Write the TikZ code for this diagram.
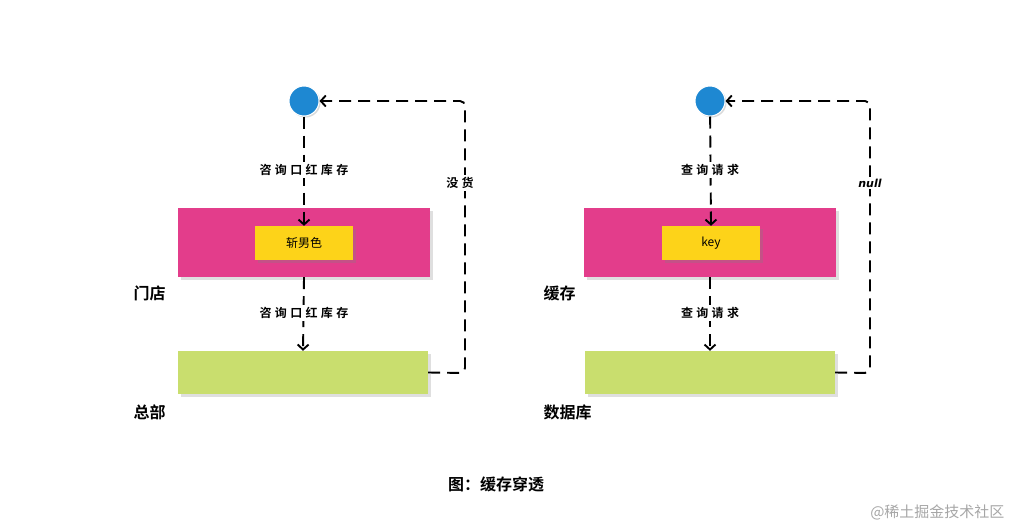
\documentclass[tikz,border=0pt]{standalone}
\usepackage{fontspec}
\setmainfont{Noto Sans CJK SC}[BoldFont={Noto Sans CJK SC Bold}]
\newfontfamily\myNullFont{DejaVu Sans}
\usetikzlibrary{arrows.meta,shadows}
\definecolor{pinkc}{HTML}{E33D8B}
\definecolor{yellowc}{HTML}{FDD319}
\definecolor{greenc}{HTML}{C9DE6E}
\definecolor{bluec}{HTML}{1E88D2}
\tikzset{
  pinkbox/.style={fill=pinkc, draw=none, minimum width=252pt, minimum height=69pt, inner sep=0pt, drop shadow={shadow xshift=3pt, shadow yshift=-3pt, opacity=0.25}},
  yellowbox/.style={fill=yellowc, draw=none, minimum width=98pt, minimum height=34pt, inner sep=0pt, font=\fontsize{12}{12}\selectfont, drop shadow={shadow xshift=3pt, shadow yshift=-3pt, opacity=0.3}},
  greenbox/.style={fill=greenc, draw=none, minimum width=250pt, minimum height=43pt, inner sep=0pt, drop shadow={shadow xshift=3pt, shadow yshift=-3pt, opacity=0.25}},
  dot/.style={circle, fill=bluec, draw=white, line width=1pt, minimum size=30pt, inner sep=0pt, drop shadow={shadow xshift=1.5pt, shadow yshift=-1.5pt, opacity=0.3}},
  flow/.style={line width=1.9pt, dash pattern=on 12pt off 7pt, -{Straight Barb[length=5pt,width=11pt]}},
  edgelabel/.style={fill=white, inner sep=2pt, font=\fontsize{12}{12}\selectfont\bfseries},
  sidelabel/.style={font=\fontsize{16}{16}\selectfont\bfseries, anchor=west},
}
\begin{document}
\begin{tikzpicture}[x=1pt,y=-1pt]
\useasboundingbox (0,0) rectangle (1014,528);
% left
\node[pinkbox] (p1) at (304,242.5) {};
\node[yellowbox] (y1) at (304,243) {斩男色};
\node[greenbox] (g1) at (303,372.5) {};
\node[dot] (c1) at (304,101) {};
\node[sidelabel] (s1) at (130,293) {门店};
\node[sidelabel] (s2) at (130,412) {总部};
\coordinate (r1a) at (465,373);
\coordinate (r1b) at (465,101);
\draw[flow] (c1) -- (y1.north);
\draw[flow] (p1.south) -- (g1.north);
\node[edgelabel] (l1) at (304,170) {咨\;询\;口\;红\;库\;存};
\node[edgelabel] (l2) at (304,313) {咨\;询\;口\;红\;库\;存};
\draw[flow, rounded corners=5pt] (g1.east) -- (r1a) -- (r1b) -- (c1.east);
\node[edgelabel] (l3) at (460,183) {没\;货};
% right
\node[pinkbox] (p2) at (710,242.5) {};
\node[yellowbox] (y2) at (711,243) {key};
\node[greenbox] (g2) at (710,372.5) {};
\node[dot] (c2) at (710,101) {};
\node[sidelabel] (s3) at (540,293) {缓存};
\node[sidelabel] (s4) at (540,412) {数据库};
\coordinate (r2a) at (870,373);
\coordinate (r2b) at (870,101);
\draw[flow] (c2) -- (y2.north);
\draw[flow] (p2.south) -- (g2.north);
\node[edgelabel] (l4) at (710,170) {查\;询\;请\;求};
\node[edgelabel] (l5) at (710,313) {查\;询\;请\;求};
\draw[flow, rounded corners=5pt] (g2.east) -- (r2a) -- (r2b) -- (c2.east);
\node[edgelabel, font=\fontsize{11}{11}\selectfont\myNullFont\itshape\bfseries] (l6) at (870,183) {null};
% caption
\node[font=\fontsize{16}{16}\selectfont\bfseries] (cap) at (496,484) {图：缓存穿透};
\node[font=\fontsize{15}{15}\selectfont, text=black!35, anchor=east] (wm) at (1008,512) {@稀土掘金技术社区};
\end{tikzpicture}
\end{document}
